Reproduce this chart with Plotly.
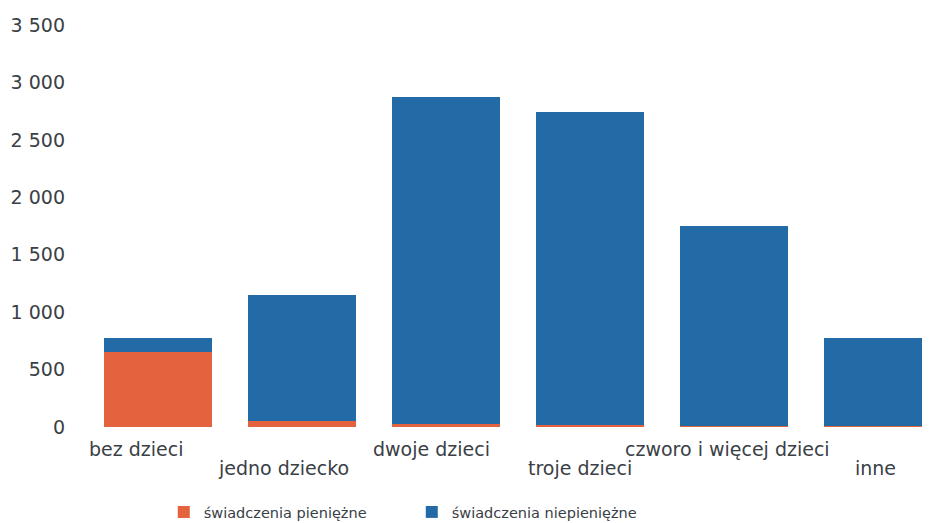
import plotly.graph_objects as go

categories = ["bez dzieci", "jedno dziecko", "dwoje dzieci", "troje dzieci",
              "czworo i więcej dzieci", "inne"]
pieniezne = [653, 50, 25, 15, 5, 10]
niepieniezne = [122, 1099, 2848, 2727, 1745, 765]
series_names = ["świadczenia pieniężne", "świadczenia niepieniężne"]
y_ticks = [0, 500, 1000, 1500, 2000, 2500, 3000, 3500]

ORANGE = "#e5623f"
BLUE = "#236ba6"
TEXT = "#3a4046"
FONT = "DejaVu Sans"

fig = go.Figure()
fig.add_trace(go.Bar(x=categories, y=pieniezne, name=series_names[0],
                     marker=dict(color=ORANGE, line=dict(width=0))))
fig.add_trace(go.Bar(x=categories, y=niepieniezne, name=series_names[1],
                     marker=dict(color=BLUE, line=dict(width=0))))

annotations = []
for i, c in enumerate(categories):
    annotations.append(dict(
        x=c, xref="x", y=0, yref="paper", text=c, showarrow=False,
        xanchor="center", yanchor="top", xshift=-22 + 3.8 * i,
        yshift=-9 if i % 2 == 0 else -28,
        font=dict(family=FONT, size=19, color=TEXT)))

fig.update_layout(
    width=922, height=523,
    margin=dict(l=78, r=0, t=17, b=104),
    barmode="stack", bargap=0.25,
    plot_bgcolor="white", paper_bgcolor="white",
    separators=", ",
    font=dict(family=FONT, size=19, color=TEXT),
    xaxis=dict(range=[-0.5, 5.36], showticklabels=False, showgrid=False,
               zeroline=False, showline=False, ticks=""),
    yaxis=dict(range=[0, 3500], tickvals=y_ticks, tickformat=",d",
               showgrid=False, zeroline=False, showline=False,
               ticks="", ticklabelstandoff=20,
               tickfont=dict(family=FONT, size=19, color=TEXT)),
    legend=dict(orientation="h", x=0.386, xanchor="center", y=-0.2114,
                yanchor="middle", traceorder="normal",
                font=dict(family=FONT, size=14.5, color=TEXT),
                entrywidth=203),
    annotations=annotations,
    showlegend=True,
)

fig.write_html("out.html")
